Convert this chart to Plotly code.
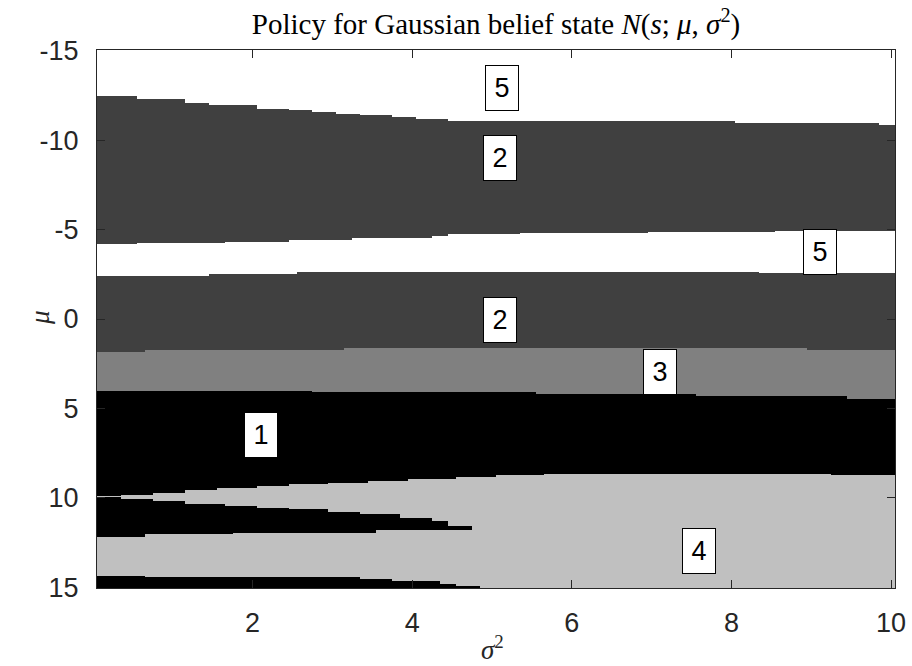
import numpy as np
import plotly.graph_objects as go

# Grid of belief states: variance sigma^2 (columns) and mean mu (rows)
sigma2 = np.round(np.arange(0.1, 10.0001, 0.1), 2)
mu = np.round(np.arange(-15.04, 15.0401, 0.02), 3)

# Policy region boundaries in mu, piecewise constant in sigma^2.
# Each boundary: sigma^2 breakpoints and the mu value from that breakpoint on.
top5_x = [0.05, 0.55, 1.13, 1.44, 2.05, 2.44, 2.74, 3.04, 3.34, 3.74, 4.06, 4.45, 8.04, 9.84]
top5_mu = [-12.49, -12.30, -12.08, -11.98, -11.74, -11.66, -11.57, -11.48, -11.41, -11.30, -11.18, -11.05, -10.98, -10.87]

band2_lo_x = [0.05, 0.53, 1.62, 2.44, 3.24, 4.24, 4.45, 5.34, 6.95, 8.6]
band2_lo_mu = [-4.20, -4.26, -4.31, -4.40, -4.50, -4.63, -4.76, -4.82, -4.87, -4.94]

gap5_lo_x = [0.05, 1.42, 2.54, 8.33]
gap5_lo_mu = [-2.43, -2.52, -2.64, -2.58]

band2b_lo_x = [0.05, 0.63, 3.13, 8.95]
band2b_lo_mu = [1.84, 1.75, 1.65, 1.75]

band3_lo_x = [0.05, 2.74, 5.54, 7.54, 9.45]
band3_lo_mu = [4.03, 4.12, 4.22, 4.31, 4.46]

band1_lo_x = [0.05, 0.33, 0.71, 1.15, 1.54, 2.05, 2.46, 2.92, 3.47, 3.93, 4.55, 5.06, 5.66, 9.23]
band1_lo_mu = [9.92, 9.84, 9.71, 9.58, 9.47, 9.36, 9.26, 9.15, 9.06, 8.97, 8.84, 8.76, 8.65, 8.74]

wedge4_lo_x = [0.05, 0.33, 0.71, 1.15, 1.63, 2.05, 2.46, 2.92, 3.38, 3.89, 4.21, 4.50, 4.74]
wedge4_lo_mu = [9.96, 10.08, 10.21, 10.33, 10.46, 10.55, 10.66, 10.79, 10.92, 11.11, 11.30, 11.57, 11.72]

strip1_lo_x = [0.05, 0.64, 1.74, 3.53]
strip1_lo_mu = [12.17, 12.04, 11.97, 11.83]
strip1_end = 4.76

base1_hi_x = [0.05, 0.63, 3.34, 3.76, 4.35, 4.53, 4.85]
base1_hi_mu = [14.37, 14.46, 14.55, 14.65, 14.83, 14.93, 15.2]

# Region labels (policy action numbers) and where they are written
label_text = ["5", "2", "5", "2", "3", "1", "4"]
label_s2 = [5.12, 5.10, 9.11, 5.10, 7.11, 2.11, 7.60]
label_mu = [-12.93, -8.98, -3.74, 0.03, 2.99, 6.50, 13.00]


def step(xs, vals, x):
    i = np.searchsorted(np.asarray(xs), x, side="right") - 1
    return np.asarray(vals)[np.clip(i, 0, len(vals) - 1)]


policy = np.full((len(mu), len(sigma2)), 4, dtype=int)
for j, s in enumerate(sigma2):
    m = mu
    col = np.full(len(mu), 4, dtype=int)
    col[m >= step(base1_hi_x, base1_hi_mu, s)] = 1
    if s < strip1_end:
        w = (m >= step(wedge4_lo_x, wedge4_lo_mu, s)) & (m < step(strip1_lo_x, strip1_lo_mu, s))
        col[w] = 1
    col[m < step(band1_lo_x, band1_lo_mu, s)] = 1
    col[m < step(band3_lo_x, band3_lo_mu, s)] = 3
    col[m < step(band2b_lo_x, band2b_lo_mu, s)] = 2
    col[m < step(gap5_lo_x, gap5_lo_mu, s)] = 5
    col[m < step(band2_lo_x, band2_lo_mu, s)] = 2
    col[m < step(top5_x, top5_mu, s)] = 5
    policy[:, j] = col

gray = [[0.0, "#000000"], [0.25, "#404040"], [0.5, "#808080"], [0.75, "#c0c0c0"], [1.0, "#ffffff"]]

fig = go.Figure(
    go.Heatmap(
        x=sigma2, y=mu, z=policy, zmin=1, zmax=5,
        colorscale=gray, showscale=False, hoverinfo="skip",
    )
)

axis_color = "#262626"
tick_font = dict(family="Liberation Sans, Arial, sans-serif", size=27, color=axis_color)

fig.update_xaxes(
    range=[0.05, 10.05], tickvals=[2, 4, 6, 8, 10], ticktext=["2", "4", "6", "8", "10"],
    ticks="inside", ticklen=8, tickcolor=axis_color, tickwidth=1,
    showline=True, linecolor=axis_color, linewidth=1, mirror="ticks",
    showgrid=False, zeroline=False, tickfont=tick_font, ticklabelstandoff=11,
    automargin=False,
)
fig.update_yaxes(
    range=[15.05, -15.05], tickvals=[-15, -10, -5, 0, 5, 10, 15],
    ticktext=["-15", "-10", "-5", "0", "5", "10", "15"],
    ticks="inside", ticklen=8, tickcolor=axis_color, tickwidth=1,
    showline=True, linecolor=axis_color, linewidth=1, mirror="ticks",
    showgrid=False, zeroline=False, tickfont=tick_font, ticklabelstandoff=12,
    automargin=False,
)

for t, xs, ys in zip(label_text, label_s2, label_mu):
    fig.add_annotation(
        x=xs, y=ys, text=t, showarrow=False,
        font=dict(family="Liberation Sans, Arial, sans-serif", size=27, color="#000000"),
        bgcolor="#ffffff", bordercolor="#000000", borderwidth=1, borderpad=5,
        width=22, height=34,
    )

serif = "Liberation Serif, Times New Roman, serif"
# axis titles
fig.add_annotation(
    xref="paper", yref="paper", x=-0.0927, y=0.502, text="<i>μ</i>", showarrow=False,
    textangle=-90, font=dict(family=serif, size=27, color=axis_color),
)
fig.add_annotation(
    xref="paper", yref="paper", x=0.495, y=-0.112, text="<i>σ</i><sup>2</sup>", showarrow=False,
    yanchor="middle", font=dict(family=serif, size=27, color=axis_color),
)

fig.update_layout(
    width=912, height=666,
    margin=dict(l=97, r=17, t=50, b=78),
    paper_bgcolor="#ffffff", plot_bgcolor="#ffffff",
    title=dict(
        text="Policy for Gaussian belief state <i>N</i>(<i>s</i>; <i>μ</i>, <i>σ</i><sup>2</sup>)",
        x=0.5, xref="paper", xanchor="center", y=1 - 24 / 666, yref="container", yanchor="middle",
        font=dict(family=serif, size=29, color="#000000"),
    ),
)

fig.write_html("out.html")
